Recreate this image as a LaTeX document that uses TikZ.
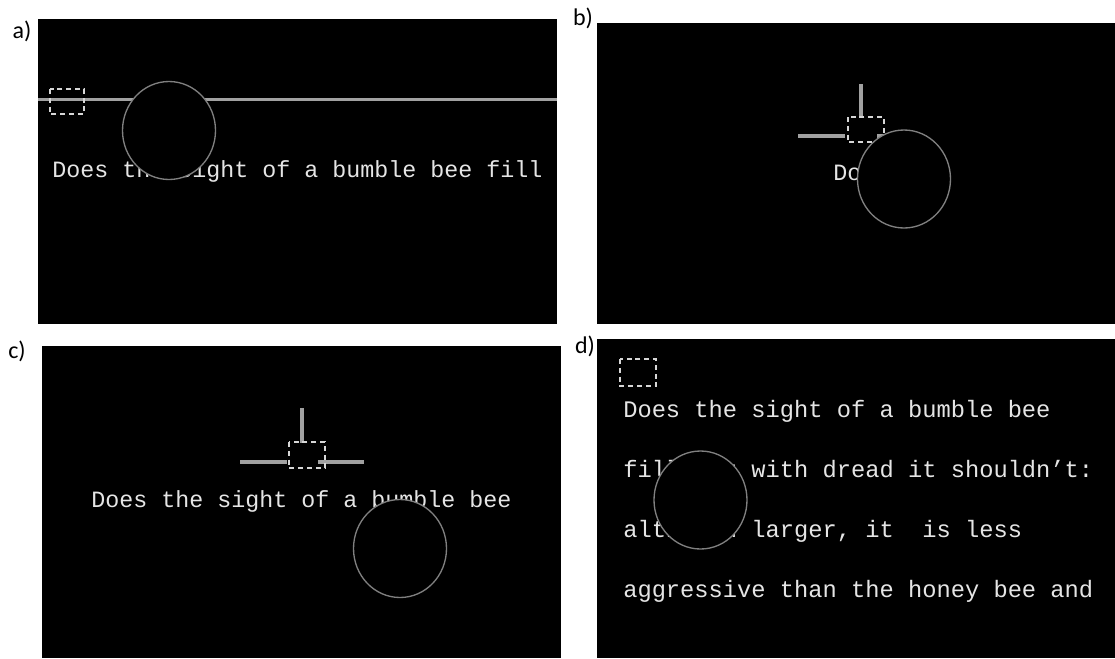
\documentclass[tikz,border=0pt]{standalone}
\usepackage{fontspec}
\setmainfont{Carlito}
\newfontfamily\monof{Liberation Mono}
\usetikzlibrary{shapes.geometric}
\definecolor{txtgray}{gray}{0.9}
\definecolor{bargray}{gray}{0.63}
\definecolor{circgray}{gray}{0.5}
\definecolor{boxgray}{gray}{0.84}
\begin{document}
\begin{tikzpicture}[x=0.75pt,y=-0.75pt,
  panel/.style={fill=black,draw=none},
  txt/.style={font=\monof\fontsize{17.5}{20}\selectfont,text=txtgray,inner sep=0,anchor=base west},
  txtd/.style={txt,font=\monof\fontsize{17.8}{20}\selectfont},
  bar/.style={draw=bargray,line width=2.8pt},
  bara/.style={draw=bargray,line width=2.2pt},
  dbox/.style={draw=boxgray,line width=0.9pt,dash pattern=on 3.8pt off 2.8pt},
  eye/.style={draw=circgray,line width=1pt,fill=black,ellipse,inner sep=0,minimum width=69.75pt,minimum height=73.5pt},
  lab/.style={font=\fontsize{18}{20}\selectfont,inner sep=0}]
\useasboundingbox (0,0) rectangle (1115,658);
\fill[white] (0,0) rectangle (1115,658);

% ---------- panel a ----------
\node[lab] (la) at (22,31) {a)};
\fill[panel] (38,19) rectangle (557,324);
\draw[bara] (38,99.5) -- (557,99.5);
\node[txt] (ta) at (52,177) {Does the sight of a bumble bee fill};
\draw[dbox] (50,89) rectangle (84,114);
\node[eye] (ca) at (169,130.5) {};

% ---------- panel b ----------
\node[lab] (lb) at (583,18) {b)};
\fill[panel] (597,23) rectangle (1115,324);
\draw[bar] (861,84) -- (861,118);
\draw[bar] (798,135.7) -- (845,135.7);
\draw[bar] (877,135.7) -- (924,135.7);
\node[txt] (tb) at (833,180) {Does};
\draw[dbox] (848,117) rectangle (884,142);
\node[eye] (cb) at (904,179) {};

% ---------- panel c ----------
\node[lab] (lc) at (17,351) {c)};
\fill[panel] (42,346) rectangle (561,658);
\draw[bar] (302,408) -- (302,443);
\draw[bar] (240,461.7) -- (287,461.7);
\draw[bar] (318,461.7) -- (364,461.7);
\node[txt] (tc) at (91,507) {Does the sight of a bumble bee};
\draw[dbox] (289,442) rectangle (325,468);
\node[eye] (cc) at (400,548.5) {};

% ---------- panel d ----------
\node[lab] (ld) at (585,346) {d)};
\fill[panel] (597,339) rectangle (1115,658);
\draw[dbox] (620,359) rectangle (656,386);
\node[txtd] (d1) at (623,417) {Does the sight of a bumble bee};
\node[txtd] (d2) at (623,477) {fill you with dread it shouldn’t:};
\node[txtd] (d3) at (623,537) {although larger, it\ \ is less};
\node[txtd] (d4) at (623,597) {aggressive than the honey bee and};
\node[eye] (cd) at (700.5,500) {};
\end{tikzpicture}
\end{document}
